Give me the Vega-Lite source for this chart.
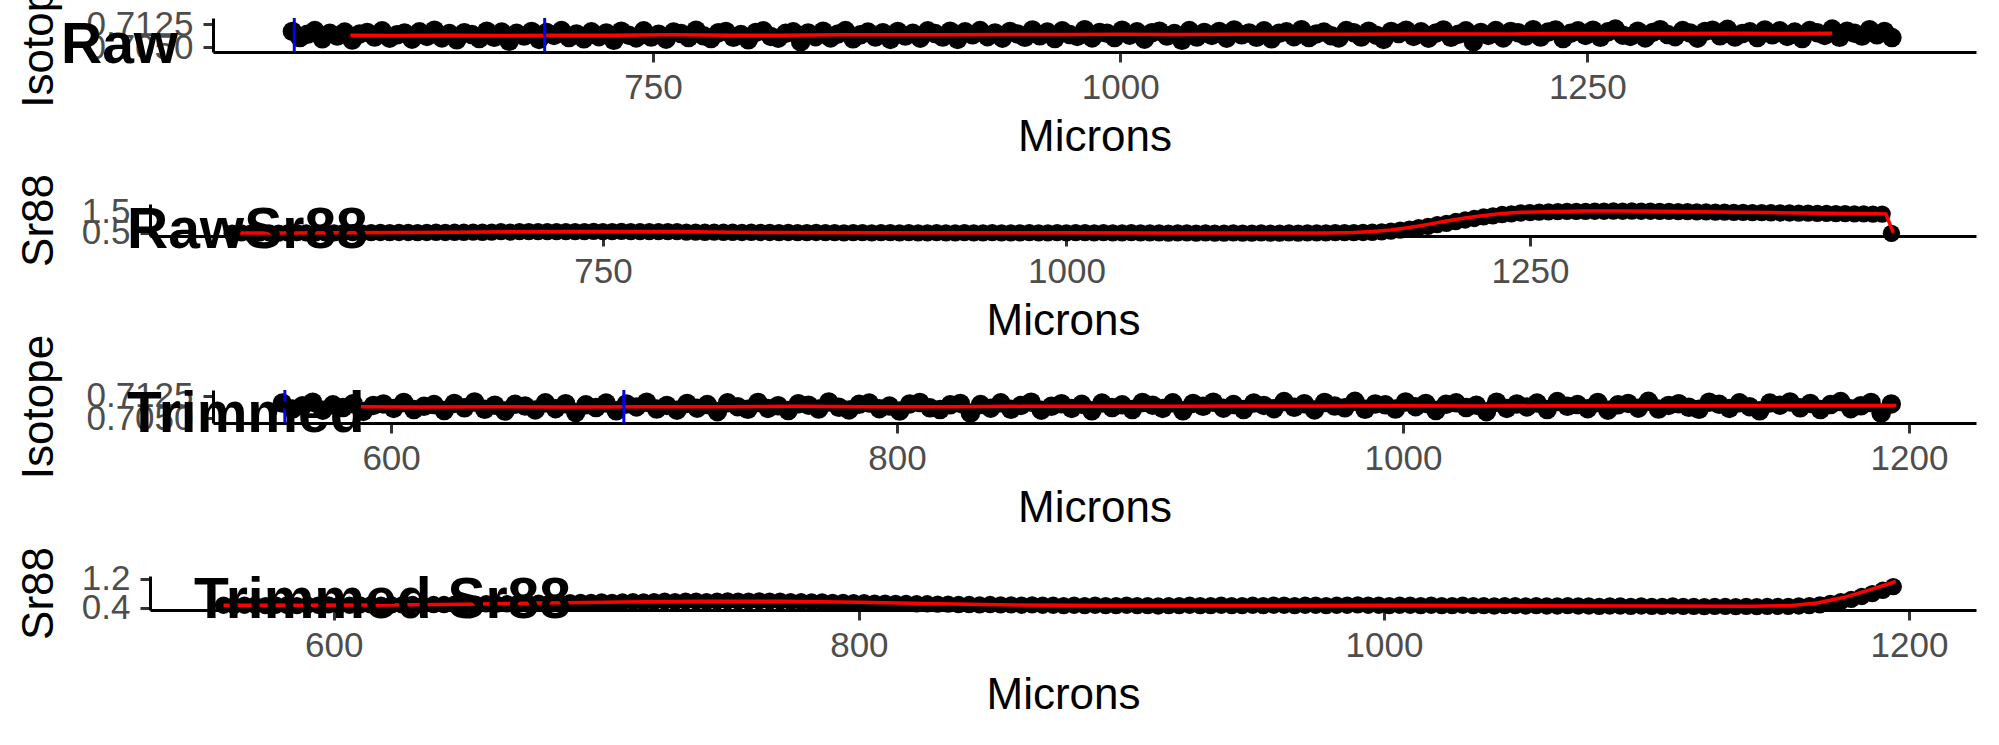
{
"$schema":"https://vega.github.io/schema/vega-lite/v6.json",
"autosize":{"type":"none"},
"padding":{"left":150,"top":18,"right":1849,"bottom":727},
"background":"white",
"config":{
 "view":{"stroke":null},
 "font":"Liberation Sans",
 "axis":{"grid":false,"domainColor":"#000000","domainWidth":3,"tickColor":"#333333","tickWidth":3,"tickSize":10,
  "labelFont":"Liberation Sans","labelFontSize":35,"labelColor":"#4D4D4D","labelOverlap":false,"labelFlush":false,"labelBound":false,
  "titleFont":"Liberation Sans","titleFontSize":44,"titleFontWeight":"normal","titleColor":"#000000"},
 "axisX":{"labelPadding":8,"titlePadding":10,"format":"d"},
 "axisY":{"labelPadding":10,"titleAngle":270,"titleBaseline":"alphabetic","titleAlign":"center"},
 "title":{"font":"Liberation Sans","fontSize":57,"fontWeight":"bold","color":"#000000","anchor":"start","frame":"group","offset":0,"baseline":"alphabetic"}
},
"datasets":{
"cuts":[{"micron":558},{"micron":692}],
"raw_iso":[
{"micron":557,"value":0.7101},{"micron":561,"value":0.7081},{"micron":565,"value":0.7092},{"micron":569,"value":0.7104},{"micron":573,"value":0.7077},{"micron":577,"value":0.7095},{"micron":581,"value":0.7086},{"micron":585,"value":0.7099},{"micron":589,"value":0.7073},{"micron":593,"value":0.7093},
{"micron":597,"value":0.7098},{"micron":601,"value":0.7083},{"micron":605,"value":0.7103},{"micron":609,"value":0.7079},{"micron":613,"value":0.7090},{"micron":617,"value":0.7096},{"micron":621,"value":0.7076},{"micron":625,"value":0.7100},{"micron":629,"value":0.7085},{"micron":633,"value":0.7105},
{"micron":637,"value":0.7080},{"micron":641,"value":0.7094},{"micron":645,"value":0.7074},{"micron":649,"value":0.7097},{"micron":653,"value":0.7091},{"micron":657,"value":0.7078},{"micron":661,"value":0.7102},{"micron":665,"value":0.7082},{"micron":669,"value":0.7099},{"micron":673,"value":0.7069},
{"micron":677,"value":0.7095},{"micron":681,"value":0.7086},{"micron":685,"value":0.7101},{"micron":689,"value":0.7075},{"micron":693,"value":0.7098},{"micron":697,"value":0.7088},{"micron":701,"value":0.7104},{"micron":705,"value":0.7081},{"micron":709,"value":0.7093},{"micron":713,"value":0.7077},
{"micron":717,"value":0.7100},{"micron":721,"value":0.7084},{"micron":725,"value":0.7096},{"micron":729,"value":0.7072},{"micron":733,"value":0.7102},{"micron":737,"value":0.7089},{"micron":741,"value":0.7080},{"micron":745,"value":0.7103},{"micron":749,"value":0.7083},{"micron":753,"value":0.7092},
{"micron":757,"value":0.7076},{"micron":761,"value":0.7099},{"micron":765,"value":0.7094},{"micron":769,"value":0.7081},{"micron":773,"value":0.7105},{"micron":777,"value":0.7087},{"micron":781,"value":0.7078},{"micron":785,"value":0.7097},{"micron":789,"value":0.7101},{"micron":793,"value":0.7082},
{"micron":797,"value":0.7091},{"micron":801,"value":0.7074},{"micron":805,"value":0.7098},{"micron":809,"value":0.7103},{"micron":813,"value":0.7085},{"micron":817,"value":0.7079},{"micron":821,"value":0.7095},{"micron":825,"value":0.7100},{"micron":829,"value":0.7067},{"micron":833,"value":0.7096},
{"micron":837,"value":0.7084},{"micron":841,"value":0.7102},{"micron":845,"value":0.7080},{"micron":849,"value":0.7093},{"micron":853,"value":0.7104},{"micron":857,"value":0.7077},{"micron":861,"value":0.7090},{"micron":865,"value":0.7099},{"micron":869,"value":0.7083},{"micron":873,"value":0.7097},
{"micron":877,"value":0.7075},{"micron":881,"value":0.7101},{"micron":885,"value":0.7086},{"micron":889,"value":0.7095},{"micron":893,"value":0.7079},{"micron":897,"value":0.7103},{"micron":901,"value":0.7094},{"micron":905,"value":0.7083},{"micron":909,"value":0.7102},{"micron":913,"value":0.7075},
{"micron":917,"value":0.7100},{"micron":921,"value":0.7090},{"micron":925,"value":0.7104},{"micron":929,"value":0.7084},{"micron":933,"value":0.7096},{"micron":937,"value":0.7079},{"micron":941,"value":0.7101},{"micron":945,"value":0.7093},{"micron":949,"value":0.7082},{"micron":953,"value":0.7106},
{"micron":957,"value":0.7087},{"micron":961,"value":0.7099},{"micron":965,"value":0.7078},{"micron":969,"value":0.7103},{"micron":973,"value":0.7091},{"micron":977,"value":0.7085},{"micron":981,"value":0.7107},{"micron":985,"value":0.7080},{"micron":989,"value":0.7098},{"micron":993,"value":0.7095},
{"micron":997,"value":0.7081},{"micron":1001,"value":0.7105},{"micron":1005,"value":0.7089},{"micron":1009,"value":0.7100},{"micron":1013,"value":0.7076},{"micron":1017,"value":0.7097},{"micron":1021,"value":0.7102},{"micron":1025,"value":0.7086},{"micron":1029,"value":0.7094},{"micron":1033,"value":0.7072},
{"micron":1037,"value":0.7104},{"micron":1041,"value":0.7083},{"micron":1045,"value":0.7098},{"micron":1049,"value":0.7088},{"micron":1053,"value":0.7101},{"micron":1057,"value":0.7079},{"micron":1061,"value":0.7106},{"micron":1065,"value":0.7090},{"micron":1069,"value":0.7096},{"micron":1073,"value":0.7082},
{"micron":1077,"value":0.7103},{"micron":1081,"value":0.7077},{"micron":1085,"value":0.7095},{"micron":1089,"value":0.7100},{"micron":1093,"value":0.7084},{"micron":1097,"value":0.7107},{"micron":1101,"value":0.7081},{"micron":1105,"value":0.7093},{"micron":1109,"value":0.7099},{"micron":1113,"value":0.7087},
{"micron":1117,"value":0.7080},{"micron":1121,"value":0.7104},{"micron":1125,"value":0.7097},{"micron":1129,"value":0.7083},{"micron":1133,"value":0.7102},{"micron":1137,"value":0.7089},{"micron":1141,"value":0.7075},{"micron":1145,"value":0.7101},{"micron":1149,"value":0.7094},{"micron":1153,"value":0.7105},
{"micron":1157,"value":0.7085},{"micron":1161,"value":0.7100},{"micron":1165,"value":0.7079},{"micron":1169,"value":0.7096},{"micron":1173,"value":0.7106},{"micron":1177,"value":0.7082},{"micron":1181,"value":0.7092},{"micron":1185,"value":0.7103},{"micron":1189,"value":0.7067},{"micron":1193,"value":0.7098},
{"micron":1197,"value":0.7088},{"micron":1201,"value":0.7104},{"micron":1205,"value":0.7080},{"micron":1209,"value":0.7101},{"micron":1213,"value":0.7097},{"micron":1217,"value":0.7086},{"micron":1221,"value":0.7107},{"micron":1225,"value":0.7083},{"micron":1229,"value":0.7099},{"micron":1233,"value":0.7106},
{"micron":1237,"value":0.7078},{"micron":1241,"value":0.7095},{"micron":1245,"value":0.7103},{"micron":1249,"value":0.7088},{"micron":1253,"value":0.7105},{"micron":1257,"value":0.7082},{"micron":1261,"value":0.7100},{"micron":1265,"value":0.7109},{"micron":1269,"value":0.7089},{"micron":1273,"value":0.7085},
{"micron":1277,"value":0.7102},{"micron":1281,"value":0.7080},{"micron":1285,"value":0.7098},{"micron":1289,"value":0.7107},{"micron":1293,"value":0.7091},{"micron":1297,"value":0.7084},{"micron":1301,"value":0.7104},{"micron":1305,"value":0.7096},{"micron":1309,"value":0.7079},{"micron":1313,"value":0.7101},
{"micron":1317,"value":0.7105},{"micron":1321,"value":0.7087},{"micron":1325,"value":0.7108},{"micron":1329,"value":0.7083},{"micron":1333,"value":0.7094},{"micron":1337,"value":0.7100},{"micron":1341,"value":0.7081},{"micron":1345,"value":0.7106},{"micron":1349,"value":0.7090},{"micron":1353,"value":0.7103},
{"micron":1357,"value":0.7085},{"micron":1361,"value":0.7099},{"micron":1365,"value":0.7078},{"micron":1369,"value":0.7104},{"micron":1373,"value":0.7097},{"micron":1377,"value":0.7088},{"micron":1381,"value":0.7109},{"micron":1385,"value":0.7082},{"micron":1389,"value":0.7102},{"micron":1393,"value":0.7095},
{"micron":1397,"value":0.7086},{"micron":1401,"value":0.7107},{"micron":1405,"value":0.7090},{"micron":1409,"value":0.7101},{"micron":1413,"value":0.7081}
],
"raw_iso_smooth":[
{"micron":588,"smooth":0.7089},{"micron":610,"smooth":0.7088},{"micron":640,"smooth":0.7089},{"micron":670,"smooth":0.7088},{"micron":700,"smooth":0.7089},{"micron":730,"smooth":0.7089},{"micron":760,"smooth":0.7090},{"micron":790,"smooth":0.7089},{"micron":820,"smooth":0.7089},{"micron":850,"smooth":0.7090},
{"micron":880,"smooth":0.7090},{"micron":910,"smooth":0.7090},{"micron":940,"smooth":0.7091},{"micron":970,"smooth":0.7091},{"micron":1000,"smooth":0.7092},{"micron":1030,"smooth":0.7091},{"micron":1060,"smooth":0.7092},{"micron":1090,"smooth":0.7092},{"micron":1120,"smooth":0.7092},{"micron":1150,"smooth":0.7093},
{"micron":1180,"smooth":0.7093},{"micron":1195,"smooth":0.7093},{"micron":1210,"smooth":0.7093},{"micron":1240,"smooth":0.7094},{"micron":1270,"smooth":0.7094},{"micron":1300,"smooth":0.7094},{"micron":1330,"smooth":0.7095},{"micron":1360,"smooth":0.7094},{"micron":1381,"smooth":0.7095}
],
"raw_sr":[
{"micron":550,"value":0.49},{"micron":555,"value":0.50},{"micron":560,"value":0.49},{"micron":565,"value":0.50},{"micron":570,"value":0.50},{"micron":575,"value":0.49},{"micron":580,"value":0.50},{"micron":585,"value":0.51},{"micron":590,"value":0.50},{"micron":595,"value":0.50},
{"micron":600,"value":0.51},{"micron":605,"value":0.50},{"micron":610,"value":0.51},{"micron":615,"value":0.51},{"micron":620,"value":0.50},{"micron":625,"value":0.51},{"micron":630,"value":0.52},{"micron":635,"value":0.51},{"micron":640,"value":0.52},{"micron":645,"value":0.52},
{"micron":650,"value":0.51},{"micron":655,"value":0.52},{"micron":660,"value":0.53},{"micron":665,"value":0.52},{"micron":670,"value":0.53},{"micron":675,"value":0.53},{"micron":680,"value":0.54},{"micron":685,"value":0.53},{"micron":690,"value":0.54},{"micron":695,"value":0.56},
{"micron":700,"value":0.54},{"micron":705,"value":0.56},{"micron":710,"value":0.56},{"micron":715,"value":0.56},{"micron":720,"value":0.56},{"micron":725,"value":0.56},{"micron":730,"value":0.56},{"micron":735,"value":0.56},{"micron":740,"value":0.56},{"micron":745,"value":0.57},
{"micron":750,"value":0.56},{"micron":755,"value":0.56},{"micron":760,"value":0.57},{"micron":765,"value":0.56},{"micron":770,"value":0.56},{"micron":775,"value":0.56},{"micron":780,"value":0.56},{"micron":785,"value":0.56},{"micron":790,"value":0.56},{"micron":795,"value":0.54},
{"micron":800,"value":0.54},{"micron":805,"value":0.53},{"micron":810,"value":0.54},{"micron":815,"value":0.53},{"micron":820,"value":0.53},{"micron":825,"value":0.52},{"micron":830,"value":0.53},{"micron":835,"value":0.52},{"micron":840,"value":0.52},{"micron":845,"value":0.51},
{"micron":850,"value":0.52},{"micron":855,"value":0.51},{"micron":860,"value":0.51},{"micron":865,"value":0.52},{"micron":870,"value":0.51},{"micron":875,"value":0.51},{"micron":880,"value":0.50},{"micron":885,"value":0.51},{"micron":890,"value":0.51},{"micron":895,"value":0.50},
{"micron":900,"value":0.51},{"micron":905,"value":0.51},{"micron":910,"value":0.50},{"micron":915,"value":0.51},{"micron":920,"value":0.50},{"micron":925,"value":0.50},{"micron":930,"value":0.51},{"micron":935,"value":0.50},{"micron":940,"value":0.50},{"micron":945,"value":0.51},
{"micron":950,"value":0.50},{"micron":955,"value":0.50},{"micron":960,"value":0.51},{"micron":965,"value":0.50},{"micron":970,"value":0.50},{"micron":975,"value":0.50},{"micron":980,"value":0.51},{"micron":985,"value":0.50},{"micron":990,"value":0.50},{"micron":995,"value":0.51},
{"micron":1000,"value":0.50},{"micron":1005,"value":0.51},{"micron":1010,"value":0.51},{"micron":1015,"value":0.50},{"micron":1020,"value":0.51},{"micron":1025,"value":0.50},{"micron":1030,"value":0.50},{"micron":1035,"value":0.51},{"micron":1040,"value":0.50},{"micron":1045,"value":0.50},
{"micron":1050,"value":0.50},{"micron":1055,"value":0.49},{"micron":1060,"value":0.50},{"micron":1065,"value":0.50},{"micron":1070,"value":0.49},{"micron":1075,"value":0.50},{"micron":1080,"value":0.49},{"micron":1085,"value":0.49},{"micron":1090,"value":0.50},{"micron":1095,"value":0.49},
{"micron":1100,"value":0.49},{"micron":1105,"value":0.50},{"micron":1110,"value":0.49},{"micron":1115,"value":0.49},{"micron":1120,"value":0.50},{"micron":1125,"value":0.49},{"micron":1130,"value":0.50},{"micron":1135,"value":0.50},{"micron":1140,"value":0.50},{"micron":1145,"value":0.51},
{"micron":1150,"value":0.51},{"micron":1155,"value":0.51},{"micron":1160,"value":0.52},{"micron":1165,"value":0.53},{"micron":1170,"value":0.55},{"micron":1175,"value":0.58},{"micron":1180,"value":0.63},{"micron":1185,"value":0.67},{"micron":1190,"value":0.74},{"micron":1195,"value":0.80},
{"micron":1200,"value":0.88},{"micron":1205,"value":0.94},{"micron":1210,"value":1.02},{"micron":1215,"value":1.09},{"micron":1220,"value":1.16},{"micron":1225,"value":1.23},{"micron":1230,"value":1.28},{"micron":1235,"value":1.34},{"micron":1240,"value":1.37},{"micron":1245,"value":1.41},
{"micron":1250,"value":1.43},{"micron":1255,"value":1.45},{"micron":1260,"value":1.46},{"micron":1265,"value":1.47},{"micron":1270,"value":1.48},{"micron":1275,"value":1.48},{"micron":1280,"value":1.48},{"micron":1285,"value":1.49},{"micron":1290,"value":1.49},{"micron":1295,"value":1.50},
{"micron":1300,"value":1.49},{"micron":1305,"value":1.50},{"micron":1310,"value":1.49},{"micron":1315,"value":1.49},{"micron":1320,"value":1.48},{"micron":1325,"value":1.48},{"micron":1330,"value":1.47},{"micron":1335,"value":1.47},{"micron":1340,"value":1.46},{"micron":1345,"value":1.46},
{"micron":1350,"value":1.45},{"micron":1355,"value":1.45},{"micron":1360,"value":1.44},{"micron":1365,"value":1.44},{"micron":1370,"value":1.43},{"micron":1375,"value":1.43},{"micron":1380,"value":1.42},{"micron":1385,"value":1.41},{"micron":1390,"value":1.41},{"micron":1395,"value":1.40},
{"micron":1400,"value":1.40},{"micron":1405,"value":1.39},{"micron":1410,"value":1.39},{"micron":1415,"value":1.38},{"micron":1420,"value":1.38},{"micron":1425,"value":1.37},{"micron":1430,"value":1.37},{"micron":1435,"value":1.36},{"micron":1440,"value":1.36},{"micron":1445,"value":0.48}
],
"raw_sr_smooth":[
{"micron":553,"smooth":0.50},{"micron":580,"smooth":0.50},{"micron":610,"smooth":0.51},{"micron":640,"smooth":0.52},{"micron":670,"smooth":0.53},{"micron":700,"smooth":0.55},{"micron":730,"smooth":0.56},{"micron":760,"smooth":0.57},{"micron":790,"smooth":0.56},{"micron":820,"smooth":0.53},
{"micron":850,"smooth":0.52},{"micron":900,"smooth":0.51},{"micron":950,"smooth":0.51},{"micron":1000,"smooth":0.51},{"micron":1050,"smooth":0.50},{"micron":1100,"smooth":0.495},{"micron":1140,"smooth":0.50},{"micron":1155,"smooth":0.52},{"micron":1165,"smooth":0.56},{"micron":1175,"smooth":0.63},
{"micron":1185,"smooth":0.75},{"micron":1195,"smooth":0.89},{"micron":1205,"smooth":1.04},{"micron":1215,"smooth":1.18},{"micron":1225,"smooth":1.30},{"micron":1235,"smooth":1.39},{"micron":1245,"smooth":1.44},{"micron":1260,"smooth":1.47},{"micron":1280,"smooth":1.50},{"micron":1300,"smooth":1.50},
{"micron":1320,"smooth":1.49},{"micron":1350,"smooth":1.46},{"micron":1380,"smooth":1.43},{"micron":1410,"smooth":1.40},{"micron":1437,"smooth":1.37},{"micron":1442,"smooth":1.36},{"micron":1446,"smooth":0.50}
],
"trim_sr":[
{"micron":558,"value":0.47},{"micron":562,"value":0.46},{"micron":566,"value":0.47},{"micron":570,"value":0.47},{"micron":574,"value":0.46},{"micron":578,"value":0.47},{"micron":582,"value":0.47},{"micron":586,"value":0.46},{"micron":590,"value":0.47},{"micron":594,"value":0.47},
{"micron":598,"value":0.48},{"micron":602,"value":0.47},{"micron":606,"value":0.47},{"micron":610,"value":0.48},{"micron":614,"value":0.48},{"micron":618,"value":0.47},{"micron":622,"value":0.48},{"micron":626,"value":0.48},{"micron":630,"value":0.49},{"micron":634,"value":0.48},
{"micron":638,"value":0.49},{"micron":642,"value":0.49},{"micron":646,"value":0.50},{"micron":650,"value":0.49},{"micron":654,"value":0.50},{"micron":658,"value":0.51},{"micron":662,"value":0.50},{"micron":666,"value":0.51},{"micron":670,"value":0.52},{"micron":674,"value":0.52},
{"micron":678,"value":0.53},{"micron":682,"value":0.53},{"micron":686,"value":0.54},{"micron":690,"value":0.54},{"micron":694,"value":0.55},{"micron":698,"value":0.55},{"micron":702,"value":0.56},{"micron":706,"value":0.55},{"micron":710,"value":0.56},{"micron":714,"value":0.57},
{"micron":718,"value":0.56},{"micron":722,"value":0.57},{"micron":726,"value":0.58},{"micron":730,"value":0.57},{"micron":734,"value":0.58},{"micron":738,"value":0.58},{"micron":742,"value":0.57},{"micron":746,"value":0.58},{"micron":750,"value":0.59},{"micron":754,"value":0.58},
{"micron":758,"value":0.58},{"micron":762,"value":0.59},{"micron":766,"value":0.58},{"micron":770,"value":0.58},{"micron":774,"value":0.57},{"micron":778,"value":0.57},{"micron":782,"value":0.56},{"micron":786,"value":0.56},{"micron":790,"value":0.55},{"micron":794,"value":0.55},
{"micron":798,"value":0.54},{"micron":802,"value":0.54},{"micron":806,"value":0.53},{"micron":810,"value":0.53},{"micron":814,"value":0.52},{"micron":818,"value":0.52},{"micron":822,"value":0.51},{"micron":826,"value":0.51},{"micron":830,"value":0.50},{"micron":834,"value":0.50},
{"micron":838,"value":0.49},{"micron":842,"value":0.49},{"micron":846,"value":0.48},{"micron":850,"value":0.49},{"micron":854,"value":0.48},{"micron":858,"value":0.48},{"micron":862,"value":0.47},{"micron":866,"value":0.48},{"micron":870,"value":0.47},{"micron":874,"value":0.47},
{"micron":878,"value":0.46},{"micron":882,"value":0.47},{"micron":886,"value":0.46},{"micron":890,"value":0.47},{"micron":894,"value":0.46},{"micron":898,"value":0.46},{"micron":902,"value":0.47},{"micron":906,"value":0.46},{"micron":910,"value":0.46},{"micron":914,"value":0.45},
{"micron":918,"value":0.46},{"micron":922,"value":0.46},{"micron":926,"value":0.47},{"micron":930,"value":0.46},{"micron":934,"value":0.46},{"micron":938,"value":0.47},{"micron":942,"value":0.46},{"micron":946,"value":0.46},{"micron":950,"value":0.47},{"micron":954,"value":0.46},
{"micron":958,"value":0.47},{"micron":962,"value":0.47},{"micron":966,"value":0.46},{"micron":970,"value":0.47},{"micron":974,"value":0.47},{"micron":978,"value":0.46},{"micron":982,"value":0.47},{"micron":986,"value":0.47},{"micron":990,"value":0.48},{"micron":994,"value":0.47},
{"micron":998,"value":0.47},{"micron":1002,"value":0.46},{"micron":1006,"value":0.47},{"micron":1010,"value":0.47},{"micron":1014,"value":0.46},{"micron":1018,"value":0.47},{"micron":1022,"value":0.46},{"micron":1026,"value":0.46},{"micron":1030,"value":0.47},{"micron":1034,"value":0.46},
{"micron":1038,"value":0.46},{"micron":1042,"value":0.45},{"micron":1046,"value":0.46},{"micron":1050,"value":0.46},{"micron":1054,"value":0.45},{"micron":1058,"value":0.46},{"micron":1062,"value":0.45},{"micron":1066,"value":0.45},{"micron":1070,"value":0.46},{"micron":1074,"value":0.45},
{"micron":1078,"value":0.45},{"micron":1082,"value":0.44},{"micron":1086,"value":0.45},{"micron":1090,"value":0.45},{"micron":1094,"value":0.44},{"micron":1098,"value":0.45},{"micron":1102,"value":0.44},{"micron":1106,"value":0.44},{"micron":1110,"value":0.45},{"micron":1114,"value":0.44},
{"micron":1118,"value":0.44},{"micron":1122,"value":0.43},{"micron":1126,"value":0.44},{"micron":1130,"value":0.44},{"micron":1134,"value":0.43},{"micron":1138,"value":0.44},{"micron":1142,"value":0.43},{"micron":1146,"value":0.44},{"micron":1150,"value":0.44},{"micron":1154,"value":0.44},
{"micron":1158,"value":0.45},{"micron":1162,"value":0.46},{"micron":1166,"value":0.48},{"micron":1170,"value":0.52},{"micron":1174,"value":0.57},{"micron":1178,"value":0.63},{"micron":1182,"value":0.71},{"micron":1186,"value":0.79},{"micron":1190,"value":0.88},{"micron":1194,"value":0.98}
],
"trim_sr_smooth":[
{"micron":558,"smooth":0.47},{"micron":590,"smooth":0.47},{"micron":620,"smooth":0.48},{"micron":650,"smooth":0.50},{"micron":680,"smooth":0.53},{"micron":710,"smooth":0.56},{"micron":740,"smooth":0.58},{"micron":770,"smooth":0.58},{"micron":800,"smooth":0.55},{"micron":830,"smooth":0.51},
{"micron":860,"smooth":0.48},{"micron":900,"smooth":0.46},{"micron":950,"smooth":0.46},{"micron":1000,"smooth":0.47},{"micron":1050,"smooth":0.46},{"micron":1100,"smooth":0.45},{"micron":1140,"smooth":0.44},{"micron":1155,"smooth":0.46},{"micron":1165,"smooth":0.53},{"micron":1175,"smooth":0.68},
{"micron":1185,"smooth":0.89},{"micron":1195,"smooth":1.12}
]
},
"spacing":186,
"bounds":"flush",
"vconcat":[
{"hconcat":[
  {"width":63,"height":34,"data":{"values":[]},"mark":"point","encoding":{}},
  {"width":1763,"height":34,
   "title":{"text":"Raw","dx":-152,"dy":116},
   "layer":[
    {"data":{"name":"raw_iso"},"mark":{"type":"point","filled":true,"color":"#000000","opacity":1,"size":380},
     "encoding":{"x":{"field":"micron","type":"quantitative","scale":{"domain":[514.5,1458],"nice":false,"zero":false},
       "axis":{"title":"Microns","values":[750,1000,1250]}},
      "y":{"field":"value","type":"quantitative","scale":{"domain":[0.7034,0.7145],"nice":false,"zero":false},
       "axis":{"title":"Isotope","values":[0.705,0.7075,0.71,0.7125],"format":".4f","titleX":-161}}}},
    {"data":{"name":"raw_iso_smooth"},"mark":{"type":"line","color":"#FF0000","strokeWidth":3.5},
     "encoding":{"x":{"field":"micron","type":"quantitative"},"y":{"field":"smooth","type":"quantitative"}}},
    {"data":{"name":"cuts"},"mark":{"type":"rule","color":"#0000FF","strokeWidth":3},
     "encoding":{"x":{"field":"micron","type":"quantitative"}}}
   ]}
 ],"spacing":0,"bounds":"flush"},
{"hconcat":[
 {"width":1826,"height":32,
 "title":{"text":"RawSr88","dx":-23,"dy":90},
 "layer":[
  {"data":{"name":"raw_sr"},"mark":{"type":"point","filled":true,"color":"#000000","opacity":1,"size":300},
   "encoding":{"x":{"field":"micron","type":"quantitative","scale":{"domain":[505.7,1490.6],"nice":false,"zero":false},
     "axis":{"title":"Microns","values":[750,1000,1250]}},
    "y":{"field":"value","type":"quantitative","scale":{"domain":[0.36,1.82],"nice":false,"zero":false},
     "axis":{"title":"Sr88","values":[0.5,1.0,1.5],"format":".1f","titleX":-98}}}},
  {"data":{"name":"raw_sr_smooth"},"mark":{"type":"line","color":"#FF0000","strokeWidth":3.5},
   "encoding":{"x":{"field":"micron","type":"quantitative"},"y":{"field":"smooth","type":"quantitative"}}}
 ]}
 ],"spacing":0,"bounds":"flush"},
{"hconcat":[
  {"width":63,"height":33,"data":{"values":[]},"mark":"point","encoding":{}},
  {"width":1763,"height":33,
   "title":{"text":"Trimmed","dx":-86,"dy":114},
   "layer":[
    {"data":{"name":"raw_iso"},"transform":[{"filter":"datum.micron <= 1196"}],
     "mark":{"type":"point","filled":true,"color":"#000000","opacity":1,"size":380},
     "encoding":{"x":{"field":"micron","type":"quantitative","scale":{"domain":[529.6,1226.5],"nice":false,"zero":false},
       "axis":{"title":"Microns","values":[600,800,1000,1200]}},
      "y":{"field":"value","type":"quantitative","scale":{"domain":[0.7034,0.7145],"nice":false,"zero":false},
       "axis":{"title":"Isotope","values":[0.705,0.7075,0.71,0.7125],"format":".4f","titleX":-161}}}},
    {"data":{"name":"raw_iso_smooth"},"transform":[{"filter":"datum.micron <= 1196"}],
     "mark":{"type":"line","color":"#FF0000","strokeWidth":3.5},
     "encoding":{"x":{"field":"micron","type":"quantitative"},"y":{"field":"smooth","type":"quantitative"}}},
    {"data":{"name":"cuts"},"mark":{"type":"rule","color":"#0000FF","strokeWidth":3},
     "encoding":{"x":{"field":"micron","type":"quantitative"}}}
   ]}
 ],"spacing":0,"bounds":"flush"},
{"hconcat":[
 {"width":1826,"height":34,
 "title":{"text":"Trimmed Sr88","dx":44,"dy":87},
 "layer":[
  {"data":{"name":"trim_sr"},"mark":{"type":"point","filled":true,"color":"#000000","opacity":1,"size":300},
   "encoding":{"x":{"field":"micron","type":"quantitative","scale":{"domain":[530,1225.5],"nice":false,"zero":false},
     "axis":{"title":"Microns","values":[600,800,1000,1200]}},
    "y":{"field":"value","type":"quantitative","scale":{"domain":[0.34,1.27],"nice":false,"zero":false},
     "axis":{"title":"Sr88","values":[0.4,0.6,0.8,1.0,1.2],"format":".1f","titleX":-98}}}},
  {"data":{"name":"trim_sr_smooth"},"mark":{"type":"line","color":"#FF0000","strokeWidth":3.5},
   "encoding":{"x":{"field":"micron","type":"quantitative"},"y":{"field":"smooth","type":"quantitative"}}}
 ]}
 ],"spacing":0,"bounds":"flush"}
]
}
